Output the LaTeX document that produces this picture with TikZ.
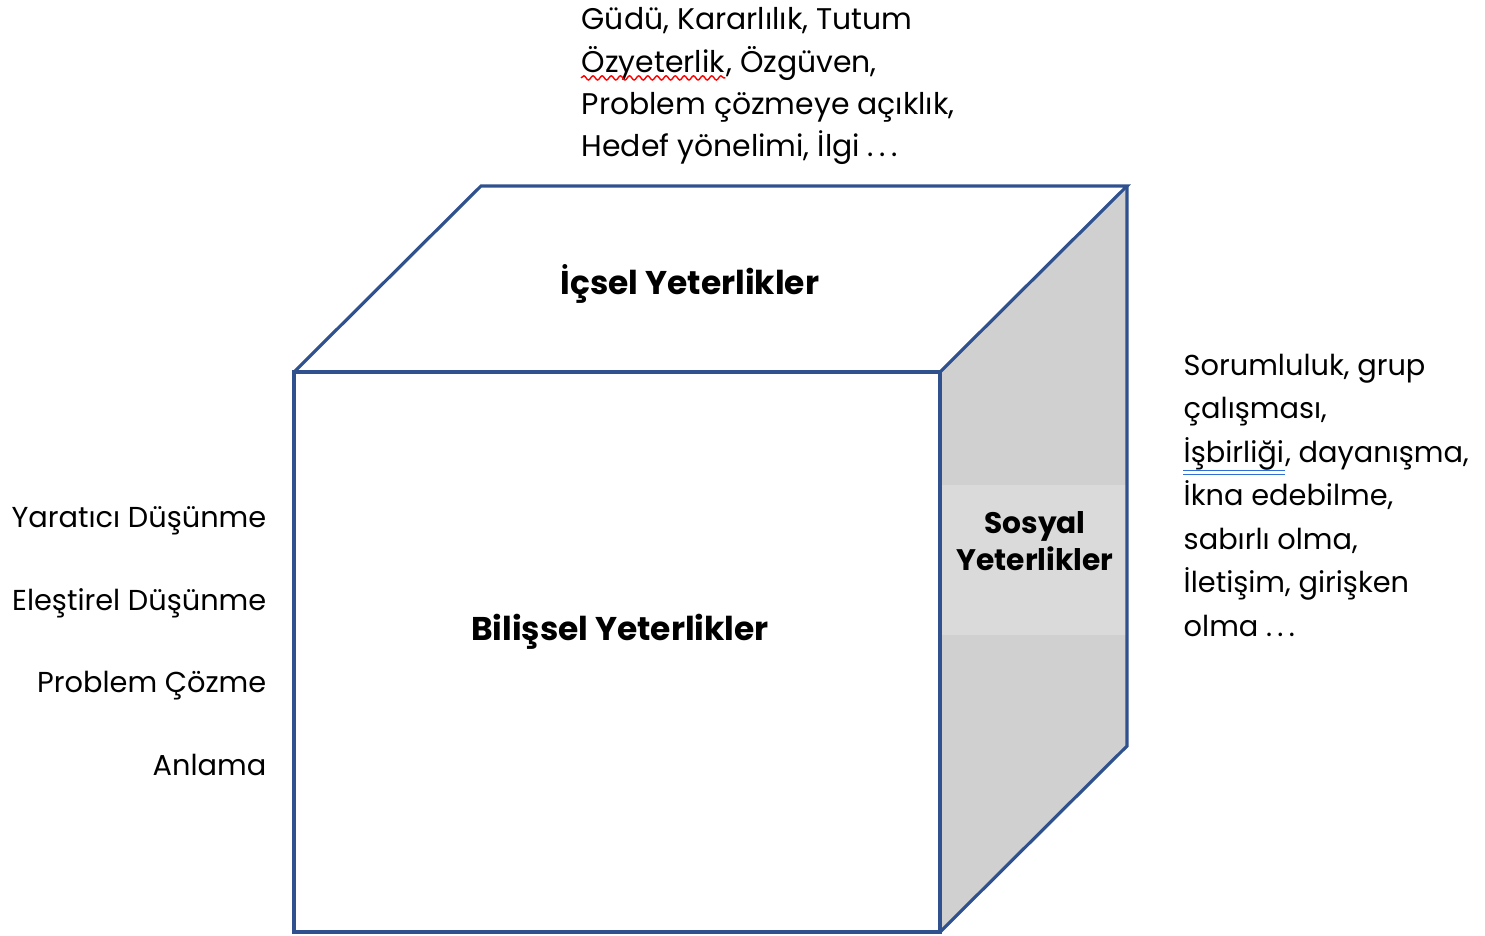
\documentclass[tikz,border=0pt]{standalone}
\usepackage{fontspec}
\setmainfont{Poppins}
\usetikzlibrary{decorations.pathmorphing}
\definecolor{cubeblue}{HTML}{2F528F}
\definecolor{sidegray}{HTML}{D0D0D0}
\definecolor{labelgray}{HTML}{DADADA}
\definecolor{spellblue}{HTML}{2F6FD6}
\tikzset{
	edge/.style={draw=cubeblue, line width=0.9pt, line join=miter},
	plain/.style={inner sep=0, font=\fontsize{8.2}{12}\selectfont},
	toplist/.style={plain, font=\fontsize{8.5}{12}\selectfont},
	title/.style={inner sep=0, font=\fontsize{9.35}{10.6}\selectfont\bfseries},
	wavemark/.style={draw=red, line width=0.4pt, decorate, decoration={snake, amplitude=0.6pt, segment length=2.6pt}},
	twinmark/.style={draw=spellblue, line width=0.45pt}
}
\begin{document}
\begin{tikzpicture}
	\useasboundingbox (0,0) rectangle (14.85,9.35);
	% cube corners
	\coordinate (FBL) at ( 2.94, 0.03);
	\coordinate (FTL) at ( 2.94, 5.63);
	\coordinate (FTR) at ( 9.40, 5.63);
	\coordinate (FBR) at ( 9.40, 0.03);
	\coordinate (BTL) at ( 4.81, 7.49);
	\coordinate (BTR) at (11.27, 7.49);
	\coordinate (BBR) at (11.27, 1.89);
	% faces
	\fill[sidegray] (FTR) -- (BTR) -- (BBR) -- (FBR) -- cycle;
	\fill[labelgray] (9.40, 3.00) rectangle (11.27, 4.50);
	\draw[edge] (FBL) -- (FTL) -- (FTR) -- (FBR) -- cycle;
	\draw[edge] (FTL) -- (BTL) -- (BTR) -- (FTR);
	\draw[edge] (BTR) -- (BBR) -- (FBR);
	% face titles
	\node (inner) at ( 6.90, 6.40)	[title, anchor=base]	{İçsel Yeterlikler};
	\node (cogn)  at ( 6.20, 2.95)	[title, anchor=base]	{Bilişsel Yeterlikler};
	\node (soc)   at (10.35, 3.65)	[title, anchor=base, align=center, font=\fontsize{8.45}{10.5}\selectfont\bfseries]	{Sosyal\\Yeterlikler};
	% top list
	\node (m1) at (5.81, 9.05)	[toplist, anchor=base west]	{Güdü, Kararlılık, Tutum};
	\node (m2) at (5.81, 8.627)	[toplist, anchor=base west]	{Özyeterlik};
	\node (m2b) at (m2.base east)	[toplist, anchor=base west]	{, Özgüven,};
	\node (m3) at (5.81, 8.203)	[toplist, anchor=base west]	{Problem çözmeye açıklık,};
	\node (m4) at (5.81, 7.78)	[toplist, anchor=base west]	{Hedef yönelimi, İlgi .\kern1.5pt.\kern1.5pt.};
	\draw[wavemark] ([yshift=-1.6pt]m2.base west) -- ([yshift=-1.6pt]m2.base east);
	% right list
	\node (s1) at (11.83, 5.60)	[plain, anchor=base west]	{Sorumluluk, grup};
	\node (s2) at (11.83, 5.165)	[plain, anchor=base west]	{çalışması,};
	\node (s3) at (11.83, 4.73)	[plain, anchor=base west]	{İşbirliği};
	\node (s3b) at (s3.base east)	[plain, anchor=base west]	{, dayanışma,};
	\node (s4) at (11.83, 4.295)	[plain, anchor=base west]	{İkna edebilme,};
	\node (s5) at (11.83, 3.86)	[plain, anchor=base west]	{sabırlı olma,};
	\node (s6) at (11.83, 3.425)	[plain, anchor=base west]	{İletişim, girişken};
	\node (s7) at (11.83, 2.99)	[plain, anchor=base west]	{olma .\kern1.5pt.\kern1.5pt.};
	\draw[twinmark] ([yshift=-2.4pt]s3.base west) -- ([yshift=-2.4pt]s3.base east);
	\draw[twinmark] ([yshift=-3.5pt]s3.base west) -- ([yshift=-3.5pt]s3.base east);
	% left list
	\node (t1) at (2.67, 4.08)	[plain, anchor=base east]	{Yaratıcı Düşünme};
	\node (t2) at (2.67, 3.25)	[plain, anchor=base east]	{Eleştirel Düşünme};
	\node (t3) at (2.67, 2.43)	[plain, anchor=base east]	{Problem Çözme};
	\node (t4) at (2.67, 1.60)	[plain, anchor=base east]	{Anlama};
\end{tikzpicture}
\end{document}
